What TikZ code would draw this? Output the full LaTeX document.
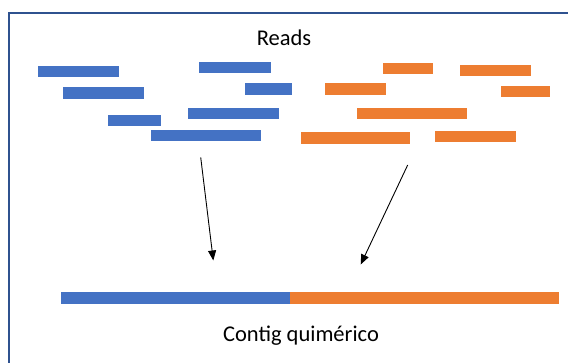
\documentclass[tikz,border=0pt]{standalone}
\usepackage{fontspec}
\setmainfont{Carlito}
\usetikzlibrary{arrows.meta}
\definecolor{rblue}{HTML}{4472C4}
\definecolor{rorange}{HTML}{ED7D31}
\definecolor{frameblue}{HTML}{2F528F}
\tikzset{
  read/.style={inner sep=0pt, outer sep=0pt, anchor=north west, draw=white, line width=0.4pt},
  bread/.style={read, fill=rblue},
  oread/.style={read, fill=rorange},
  arr/.style={line width=0.9pt, -{Triangle[length=10pt,width=8pt]}},
  lbl/.style={font=\fontsize{22.5}{26}\selectfont, anchor=base, inner sep=0pt}
}
\begin{document}
\begin{tikzpicture}[x=1pt,y=-1pt]
\fill[white] (0,0) rectangle (568,363);
\useasboundingbox (0,0) rectangle (568,363);
\draw[frameblue, line width=2pt] (9,363) -- (9,13) -- (568,13);

\node[lbl] (reads) at (284,45.7) {Reads};

% blue reads
\node[bread, minimum width=82pt, minimum height=12pt] (b1) at (37,65) {};
\node[bread, minimum width=82pt, minimum height=13pt] (b2) at (62,86) {};
\node[bread, minimum width=54pt, minimum height=12pt] (b3) at (107,114) {};
\node[bread, minimum width=111pt, minimum height=12pt] (b4) at (150,129) {};
\node[bread, minimum width=73pt, minimum height=12pt] (b5) at (198,61) {};
\node[bread, minimum width=48pt, minimum height=13pt] (b6) at (244,82) {};
\node[bread, minimum width=92pt, minimum height=12pt] (b7) at (187,107) {};

% orange reads
\node[oread, minimum width=51pt, minimum height=12pt] (o1) at (382,62) {};
\node[oread, minimum width=72pt, minimum height=12pt] (o2) at (459,64) {};
\node[oread, minimum width=62pt, minimum height=13pt] (o3) at (324,82) {};
\node[oread, minimum width=50pt, minimum height=12pt] (o4) at (500,85) {};
\node[oread, minimum width=111pt, minimum height=12pt] (o5) at (356,107) {};
\node[oread, minimum width=110pt, minimum height=13pt] (o6) at (300,131) {};
\node[oread, minimum width=82pt, minimum height=12pt] (o7) at (434,130) {};

% arrows
\coordinate (a1s) at (200.7,157.3);
\coordinate (a1e) at (213.3,260.5);
\coordinate (a2s) at (407.7,165);
\coordinate (a2e) at (360.7,264.5);
\draw[arr] (a1s) -- (a1e);
\draw[arr] (a2s) -- (a2e);

% contig
\node[bread, minimum width=228.5pt, minimum height=12pt, draw=none] (cb) at (61,292.3) {};
\node[oread, minimum width=269pt, minimum height=12pt, draw=none] (co) at (289.5,292.3) {};

\node[lbl] (contig) at (301,341.7) {Contig quimérico};
\end{tikzpicture}
\end{document}
